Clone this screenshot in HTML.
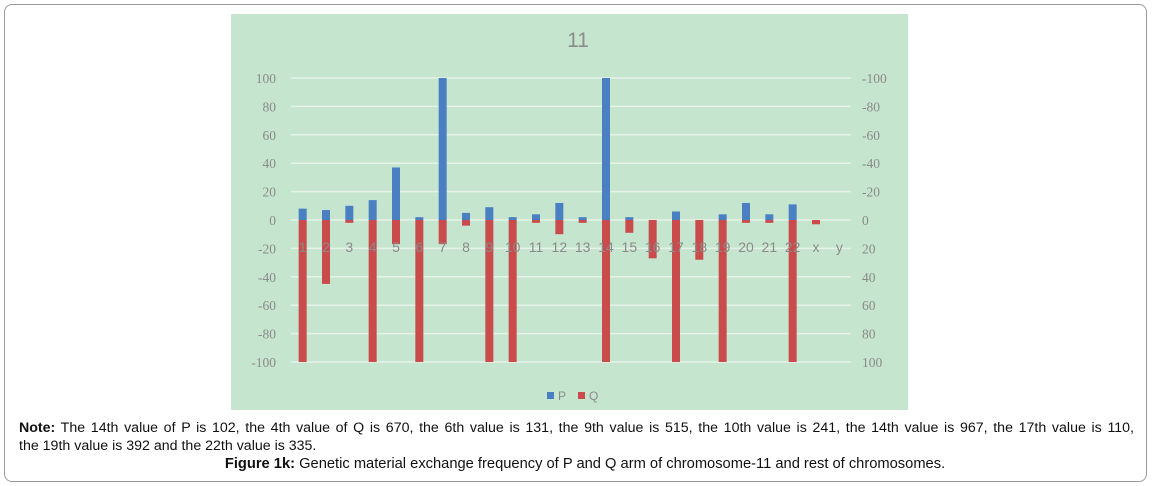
<!DOCTYPE html>
<html><head><meta charset="utf-8"><style>
body{margin:0;width:1152px;height:486px;background:#fff;font-family:"Liberation Sans",sans-serif;position:relative;overflow:hidden}
.frame{position:absolute;left:4px;top:4px;width:1141px;height:476px;border:1px solid #9a9a9a;border-radius:8px}
.note{position:absolute;left:19px;top:419px;width:1115px;font-size:14.2px;line-height:18px;color:#111}
.l1{display:block;text-align:justify;text-align-last:justify;white-space:nowrap}
.cap{position:absolute;left:0;width:1170px;top:456px;text-align:center;font-size:14.7px;color:#111}
</style></head><body>
<div class="frame"></div>
<svg id="chart" style="position:absolute;left:0;top:0" width="1152" height="420"></svg>
<div class="note"><span class="l1" style="white-space:normal"><b>Note:</b> The 14th value of P is 102, the 4th value of Q is 670, the 6th value is 131, the 9th value is 515, the 10th value is 241, the 14th value is 967, the 17th value is 110,</span>the 19th value is 392 and the 22th value is 335.</div>
<div class="cap"><b>Figure 1k:</b> Genetic material exchange frequency of P and Q arm of chromosome-11 and rest of chromosomes.</div>
<script>
const categories=["1","2","3","4","5","6","7","8","9","10","11","12","13","14","15","16","17","18","19","20","21","22","x","y"];
const pValues=[8,7,10,14,37,2,100,5,9,2,4,12,2,100,2,0,6,0,4,12,4,11,0,0];
const qValues=[100,45,2,100,17,100,17,4,100,100,2,10,2,100,9,27,100,28,100,2,2,100,3,0];
const leftTicks=[100,80,60,40,20,0,-20,-40,-60,-80,-100];
const rightTicks=["-100","-80","-60","-40","-20","0","20","40","60","80","100"];
const NS="http://www.w3.org/2000/svg";
const svg=document.getElementById('chart');
function mk(t,a,txt){const e=document.createElementNS(NS,t);for(const k in a)e.setAttribute(k,a[k]);if(txt!==undefined)e.textContent=txt;svg.appendChild(e);return e;}
const L=291,R=851,Y0=220,S=1.42;
const y=v=>Y0-v*S;
const bw=(R-L)/categories.length;
const x=i=>L+bw*(i+0.5);
let e;
e=mk('rect',{x:231,y:14,width:677,height:396,fill:'#c6e5cf'});


e=mk('text',{x:578,y:47,'text-anchor':'middle','font-size':21,fill:'#8c8c8c'},'11');


leftTicks.forEach((v,i)=>{
 e=mk('line',{x1:L,x2:R,y1:y(v),y2:y(v),stroke:'#e6f2e8','stroke-width':1.5});
 
 
 e=mk('text',{x:276,y:y(v)+5,'text-anchor':'end','font-size':13.5,fill:'#8a8a8a','font-family':'Liberation Serif'},String(v));
 
 
 e=mk('text',{x:862,y:y(v)+5,'font-size':13.5,fill:'#8a8a8a','font-family':'Liberation Serif'},rightTicks[i]);
 
 
});
categories.forEach((c,i)=>{
 if(pValues[i]>0){e=mk('rect',{x:x(i)-4,y:y(pValues[i]),width:8,height:pValues[i]*S,fill:'#4a7fc1'});
 
 }
 if(qValues[i]>0){e=mk('rect',{x:x(i)-4,y:Y0,width:8,height:qValues[i]*S,fill:'#c94b4b'});
 
 }
});
categories.forEach((c,i)=>{
 e=mk('text',{x:x(i),y:252,'text-anchor':'middle','font-size':14,fill:'#8a8a8a'},c);
 
 
});
e=mk('rect',{x:547,y:392,width:7,height:7,fill:'#4a7fc1'});


e=mk('text',{x:558,y:400,'font-size':12,fill:'#8a8a8a'},'P');


e=mk('rect',{x:578,y:392,width:7,height:7,fill:'#c94b4b'});


e=mk('text',{x:589,y:400,'font-size':12,fill:'#8a8a8a'},'Q');


</script>
</body></html>
